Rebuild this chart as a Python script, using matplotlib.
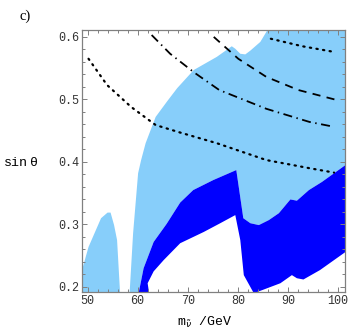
import matplotlib.pyplot as plt
from matplotlib.ticker import MultipleLocator

# left light-blue blob
blob_x = [49.0, 49.0, 50.2, 52.7, 54.0, 54.6, 55.3, 55.9, 56.5]
blob_y = [0.19, 0.23, 0.264, 0.31, 0.319, 0.319, 0.299, 0.275, 0.19]

# left/top edge of the main light-blue region
lb_x = [58.4, 59.1, 60.1, 60.7, 61.6, 63.6, 65.9, 67.9, 71.2, 75.8, 78.8, 79.5,
        80.5, 81.5, 82.5, 84.5, 86.0, 101.5]
lb_y = [0.19, 0.286, 0.382, 0.403, 0.43, 0.472, 0.497, 0.518, 0.547, 0.568, 0.585,
        0.581, 0.573, 0.572, 0.578, 0.592, 0.612, 0.612]

# upper edge of the dark-blue band
du_x = [60.2, 61.2, 63.2, 65.8, 68.5, 71.1, 75.1, 79.7, 81.1, 82.5, 84.2, 86.2,
        88.2, 90.5, 91.8, 94.2, 96.8, 101.5]
du_y = [0.19, 0.23, 0.272, 0.301, 0.335, 0.355, 0.371, 0.387, 0.31, 0.302, 0.299,
        0.307, 0.318, 0.34, 0.338, 0.355, 0.368, 0.395]

# lower edge of the dark-blue band
dl_x = [62.3, 62.0, 63.2, 65.2, 68.5, 73.2, 76.5, 79.5, 80.5, 81.2, 83.2, 85.2,
        88.5, 90.8, 91.8, 93.1, 96.4, 101.5]
dl_y = [0.19, 0.206, 0.225, 0.243, 0.27, 0.288, 0.302, 0.315, 0.275, 0.219, 0.19,
        0.196, 0.206, 0.219, 0.214, 0.212, 0.227, 0.256]

# contour lines
dot_low_x = [50.2, 53.9, 58.7, 63.6, 68.5, 75.8, 85.7, 94.3, 99.2]
dot_low_y = [0.565, 0.523, 0.488, 0.459, 0.447, 0.430, 0.403, 0.390, 0.383]
dot_top_x = [86.6, 92.9, 99.2]
dot_top_y = [0.597, 0.585, 0.576]
dashdot_x = [62.8, 66.5, 71.3, 76.3, 85.7, 94.3, 98.7]
dashdot_y = [0.603, 0.573, 0.543, 0.515, 0.485, 0.464, 0.457]
dashed_x = [75.2, 80.1, 85.7, 92.1, 99.3]
dashed_y = [0.600, 0.565, 0.536, 0.515, 0.500]

light = "#87CEFA"
dark = "#0000FF"
mono = "Liberation Mono"

fig = plt.figure(figsize=(3.49, 3.32), dpi=100)
ax = fig.add_axes([0.235, 0.1205, 0.7535, 0.7891])

ax.fill(blob_x, blob_y, color=light, lw=0)
ax.fill(lb_x + du_x[::-1], lb_y + du_y[::-1], color=light, lw=0)
ax.fill(du_x + dl_x[::-1], du_y + dl_y[::-1], color=dark, lw=0)

ax.plot(dot_low_x, dot_low_y, color="black", lw=1.6, linestyle=(0, (0.6, 2.4)),
        dash_capstyle="round")
ax.plot(dot_top_x, dot_top_y, color="black", lw=1.6, linestyle=(0, (0.6, 2.4)),
        dash_capstyle="round")
ax.plot(dashdot_x, dashdot_y, color="black", lw=1.3, linestyle=(0, (5, 2.5, 0.8, 2.5)))
ax.plot(dashed_x, dashed_y, color="black", lw=1.3, linestyle=(0, (4.5, 3.5)))

ax.set_xlim(48.9, 101.4)
ax.set_ylim(0.192, 0.611)
ax.xaxis.set_major_locator(MultipleLocator(10))
ax.xaxis.set_minor_locator(MultipleLocator(2))
ax.yaxis.set_major_locator(MultipleLocator(0.1))
ax.yaxis.set_minor_locator(MultipleLocator(0.02))
ax.tick_params(which="both", direction="in", top=True, right=True, color="#808080",
               labelsize=8.5, labelcolor="#333333", width=0.7, pad=2)
ax.tick_params(which="major", length=3.5)
ax.tick_params(which="minor", length=2)
for lab in ax.get_xticklabels() + ax.get_yticklabels():
    lab.set_family(mono)
for s in ax.spines.values():
    s.set_color("#808080")
    s.set_linewidth(0.9)

fig.text(0.072, 0.93, "c)", family="Liberation Serif", fontsize=10.5, ha="center",
         va="bottom")
fig.text(0.01, 0.509, "sin", family=mono, fontsize=9.5, ha="left", va="center")
fig.text(0.085, 0.509, "θ", family=mono, fontsize=9.5, ha="left", va="center")
fig.text(0.585, 0.03, r"m$_{\tilde{\nu}}$ /GeV", family=mono, fontsize=9.5,
         ha="center", va="center")

fig.savefig("out.png", dpi=100)
